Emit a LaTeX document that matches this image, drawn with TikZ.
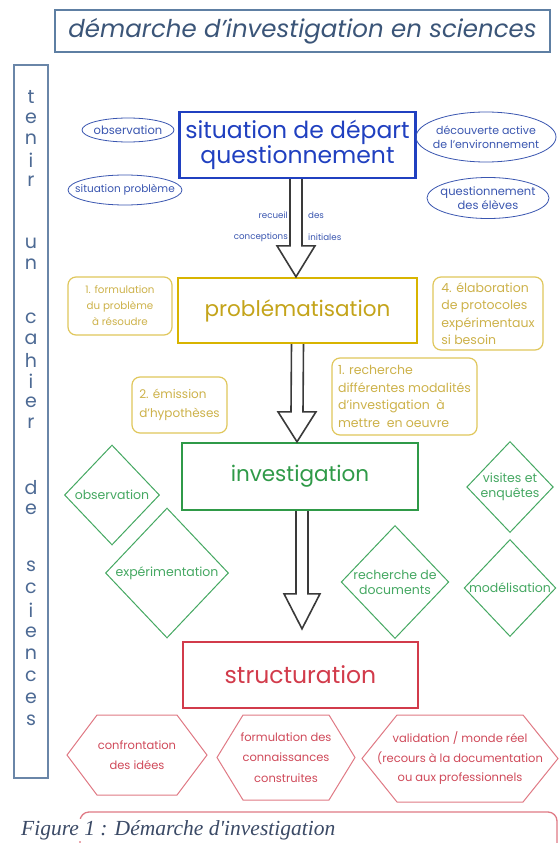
\documentclass[tikz,border=0pt]{standalone}
\usepackage{fontspec}
\setmainfont{Poppins}
\newfontfamily\capfont{Liberation Serif}
\usetikzlibrary{shapes.geometric,calc}
\definecolor{titletxt}{HTML}{3B5578}
\definecolor{titlebrd}{HTML}{5E7FA3}
\definecolor{colbrd}{HTML}{6A86A8}
\definecolor{coltxt}{HTML}{4D6A94}
\definecolor{bluemain}{HTML}{2040C0}
\definecolor{bluelite}{HTML}{3A56B0}
\definecolor{goldmain}{HTML}{D8B400}
\definecolor{goldtxt}{HTML}{C4A41A}
\definecolor{goldlite}{HTML}{E0C75C}
\definecolor{goldlitetxt}{HTML}{CDB24A}
\definecolor{greenmain}{HTML}{2F9A48}
\definecolor{greenlite}{HTML}{45A862}
\definecolor{redmain}{HTML}{D23B4B}
\definecolor{redlite}{HTML}{E07A85}
\definecolor{redtxt}{HTML}{D04A5A}
\definecolor{arrowgray}{HTML}{3A3A3A}
\definecolor{captxt}{HTML}{3B4A66}
\tikzset{
  mainbox/.style={draw, line width=2.4pt, minimum width=236pt, minimum height=66pt, align=center, inner sep=2pt},
  bigfont/.style={font=\fontsize{21.5}{23}\selectfont},
  elltxt/.style={text=bluelite, align=center, inner sep=0pt, font=\fontsize{11.5}{14}\selectfont},
  ellline/.style={draw=bluelite, line width=0.8pt},
  goldbox/.style={draw=goldlite, line width=1.2pt, rounded corners=8pt, text=goldlitetxt, align=left, inner sep=3pt, font=\fontsize{12.5}{17.5}\selectfont},
  diabox/.style={diamond, draw=greenlite, line width=1pt, text=greenlite, align=center, inner sep=0pt, font=\fontsize{12.5}{15}\selectfont},
  hextxt/.style={text=redtxt, align=center, inner sep=0pt, font=\fontsize{11.5}{20.5}\selectfont},
  hexline/.style={draw=redlite, line width=1pt},
  barrow/.style={draw=arrowgray, fill=white, line width=1.6pt, line join=miter},
  letter/.style={text=coltxt, font=\fontsize{19}{19}\selectfont, inner sep=0pt},
  reclbl/.style={text=bluelite, font=\fontsize{8.7}{10}\selectfont, inner sep=0pt}
}
\begin{document}
\begin{tikzpicture}[x=1pt,y=-1pt]
\useasboundingbox (0,0) rectangle (559,843);
\fill[white] (0,0) rectangle (559,843);
\clip (0,0) rectangle (559,843);

% title
\node[draw=titlebrd, line width=2pt, minimum width=495pt, minimum height=42pt, inner sep=0pt, text=titletxt, font=\fontsize{24.5}{26}\selectfont\itshape] (title) at (302.5,31) {démarche d'investigation en sciences};

% left column
\node[draw=colbrd, line width=1.5pt, minimum width=34pt, minimum height=713pt, inner sep=0pt] (leftcol) at (31,421.5) {};
\foreach \ch/\yy [count=\i] in {t/97,e/118,n/139,i/160,r/181,u/243,n/264,c/318,a/339,h/360,i/381,e/402,r/423,d/488,e/509,s/566,c/588,i/610,e/632,n/654,c/676,e/698,s/720}
  \node[letter] (L\i) at (31,\yy) {\ch};

% main boxes
\node[mainbox, draw=bluemain, text=bluemain, font=\fontsize{23.5}{25}\selectfont] (sit) at (297.5,145) {situation de départ\\questionnement};
\node[mainbox, bigfont, draw=goldmain, text=goldtxt, minimum width=239pt, minimum height=65pt] (prob) at (297.5,310.5) {problématisation};
\node[mainbox, bigfont, draw=greenmain, text=greenmain, minimum height=67pt] (inv) at (300,476.5) {investigation};
\node[mainbox, draw=redmain, text=redmain, minimum width=235pt, font=\fontsize{23.5}{25}\selectfont] (str) at (300.5,675) {structuration};

% ellipses
\node[elltxt] (e1) at (128,130) {observation};
\node[elltxt, font=\fontsize{10.5}{13}\selectfont] (e2) at (125,190) {situation problème};
\node[elltxt, font=\fontsize{11}{14}\selectfont] (e3) at (486,137) {découverte active\\de l'environnement};
\node[elltxt] (e4) at (488,198) {questionnement\\des élèves};
\draw[ellline] (e1.center) ellipse [x radius=46, y radius=12];
\draw[ellline] (e2.center) ellipse [x radius=57, y radius=15];
\draw[ellline] (e3.center) ellipse [x radius=70, y radius=25];
\draw[ellline] (e4.center) ellipse [x radius=61, y radius=20.5];

% recueil labels
\node[reclbl, anchor=east] (r1) at (288,215) {recueil};
\node[reclbl, anchor=east] (r2) at (288,237) {conceptions};
\node[reclbl, anchor=west] (r3) at (308,215) {des};
\node[reclbl, anchor=west] (r4) at (308,237) {initiales};

% gold boxes
\node[goldbox, align=center, minimum width=104pt, minimum height=58pt, font=\fontsize{10.3}{16}\selectfont] (g1) at (120,306) {1. formulation\\du problème\\à résoudre};
\node[goldbox, minimum width=110pt, minimum height=73pt] (g4) at (488,313.5) {4. élaboration\\de protocoles\\expérimentaux\\si besoin};
\node[goldbox, minimum width=95pt, minimum height=56pt, font=\fontsize{12}{19}\selectfont] (g2) at (179.5,405) {2. émission\\d'hypothèses};
\node[goldbox, minimum width=145pt, minimum height=77pt] (g3) at (404.5,396.5) {1. recherche\\différentes modalités\\d'investigation~~à\\mettre~~en oeuvre};

% diamonds
\node[diabox, minimum width=95pt, minimum height=100pt] (d1) at (112,495) {observation};
\node[diabox, minimum width=123pt, minimum height=130pt] (d2) at (167,573) {expérimentation};
\node[diabox, minimum width=106pt, minimum height=113pt] (d3) at (395,582) {recherche de\\documents};
\node[diabox, minimum width=86pt, minimum height=91pt] (d4) at (510,487) {visites et\\enquêtes};
\node[diabox, minimum width=90pt, minimum height=97pt] (d5) at (510,588) {modélisation};

% hexagons
\node[hextxt] (h1) at (137,755) {confrontation\\des idées};
\node[hextxt] (h2) at (286,757.5) {formulation des\\connaissances\\construites};
\node[hextxt, font=\fontsize{11.5}{19.5}\selectfont] (h3) at (460,758.5) {validation / monde réel\\(recours à la documentation\\ou aux professionnels};
\draw[hexline] ($(h1)+(-70,0)$) -- ($(h1)+(-40,-40)$) -- ($(h1)+(40,-40)$) -- ($(h1)+(70,0)$) -- ($(h1)+(40,40)$) -- ($(h1)+(-40,40)$) -- cycle;
\draw[hexline] ($(h2)+(-69,0)$) -- ($(h2)+(-43,-42.5)$) -- ($(h2)+(43,-42.5)$) -- ($(h2)+(69,0)$) -- ($(h2)+(43,42.5)$) -- ($(h2)+(-43,42.5)$) -- cycle;
\draw[hexline] ($(h3)+(-98,0)$) -- ($(h3)+(-63,-43.5)$) -- ($(h3)+(63,-43.5)$) -- ($(h3)+(98,0)$) -- ($(h3)+(63,43.5)$) -- ($(h3)+(-63,43.5)$) -- cycle;

% block arrows
\coordinate (a1s) at ($(sit.south)+(-1.5,0)$);
\coordinate (a1t) at ($(prob.north)+(-1.5,0)$);
\coordinate (a2s) at ($(prob.south)+(0,0)$);
\coordinate (a2t) at ($(inv.north)+(-3,0)$);
\coordinate (a3s) at ($(inv.south)+(2,0)$);
\coordinate (a3t) at ($(str.north)+(1.5,-12)$);
\draw[barrow] ($(a1s)+(-6,0)$) -- ($(a1t)+(-6,-31)$) -- ($(a1t)+(-19,-31)$) -- (a1t) -- ($(a1t)+(19,-31)$) -- ($(a1t)+(6,-31)$) -- ($(a1s)+(6,0)$);
\draw[barrow] ($(a2s)+(-6,0)$) -- ($(a2t)+(-6,-30)$) -- ($(a2t)+(-19,-30)$) -- (a2t) -- ($(a2t)+(19,-30)$) -- ($(a2t)+(6,-30)$) -- ($(a2s)+(6,0)$);
\draw[barrow] ($(a3s)+(-6,0)$) -- ($(a3t)+(-6,-35)$) -- ($(a3t)+(-18,-35)$) -- (a3t) -- ($(a3t)+(18,-35)$) -- ($(a3t)+(6,-35)$) -- ($(a3s)+(6,0)$);

% bottom partial box and caption
\coordinate (bl) at (80,850);
\coordinate (br) at (557,850);
\draw[draw=redlite, line width=1.3pt, rounded corners=9pt] (bl) -- (80,812) -- (557,812) -- (br);
\node[anchor=base west, fill=white, inner sep=1pt, text=captxt, font=\capfont\itshape\fontsize{21.5}{24}\selectfont] (cap) at (20,835) {Figure 1 : Démarche d'investigation};
\end{tikzpicture}
\end{document}
